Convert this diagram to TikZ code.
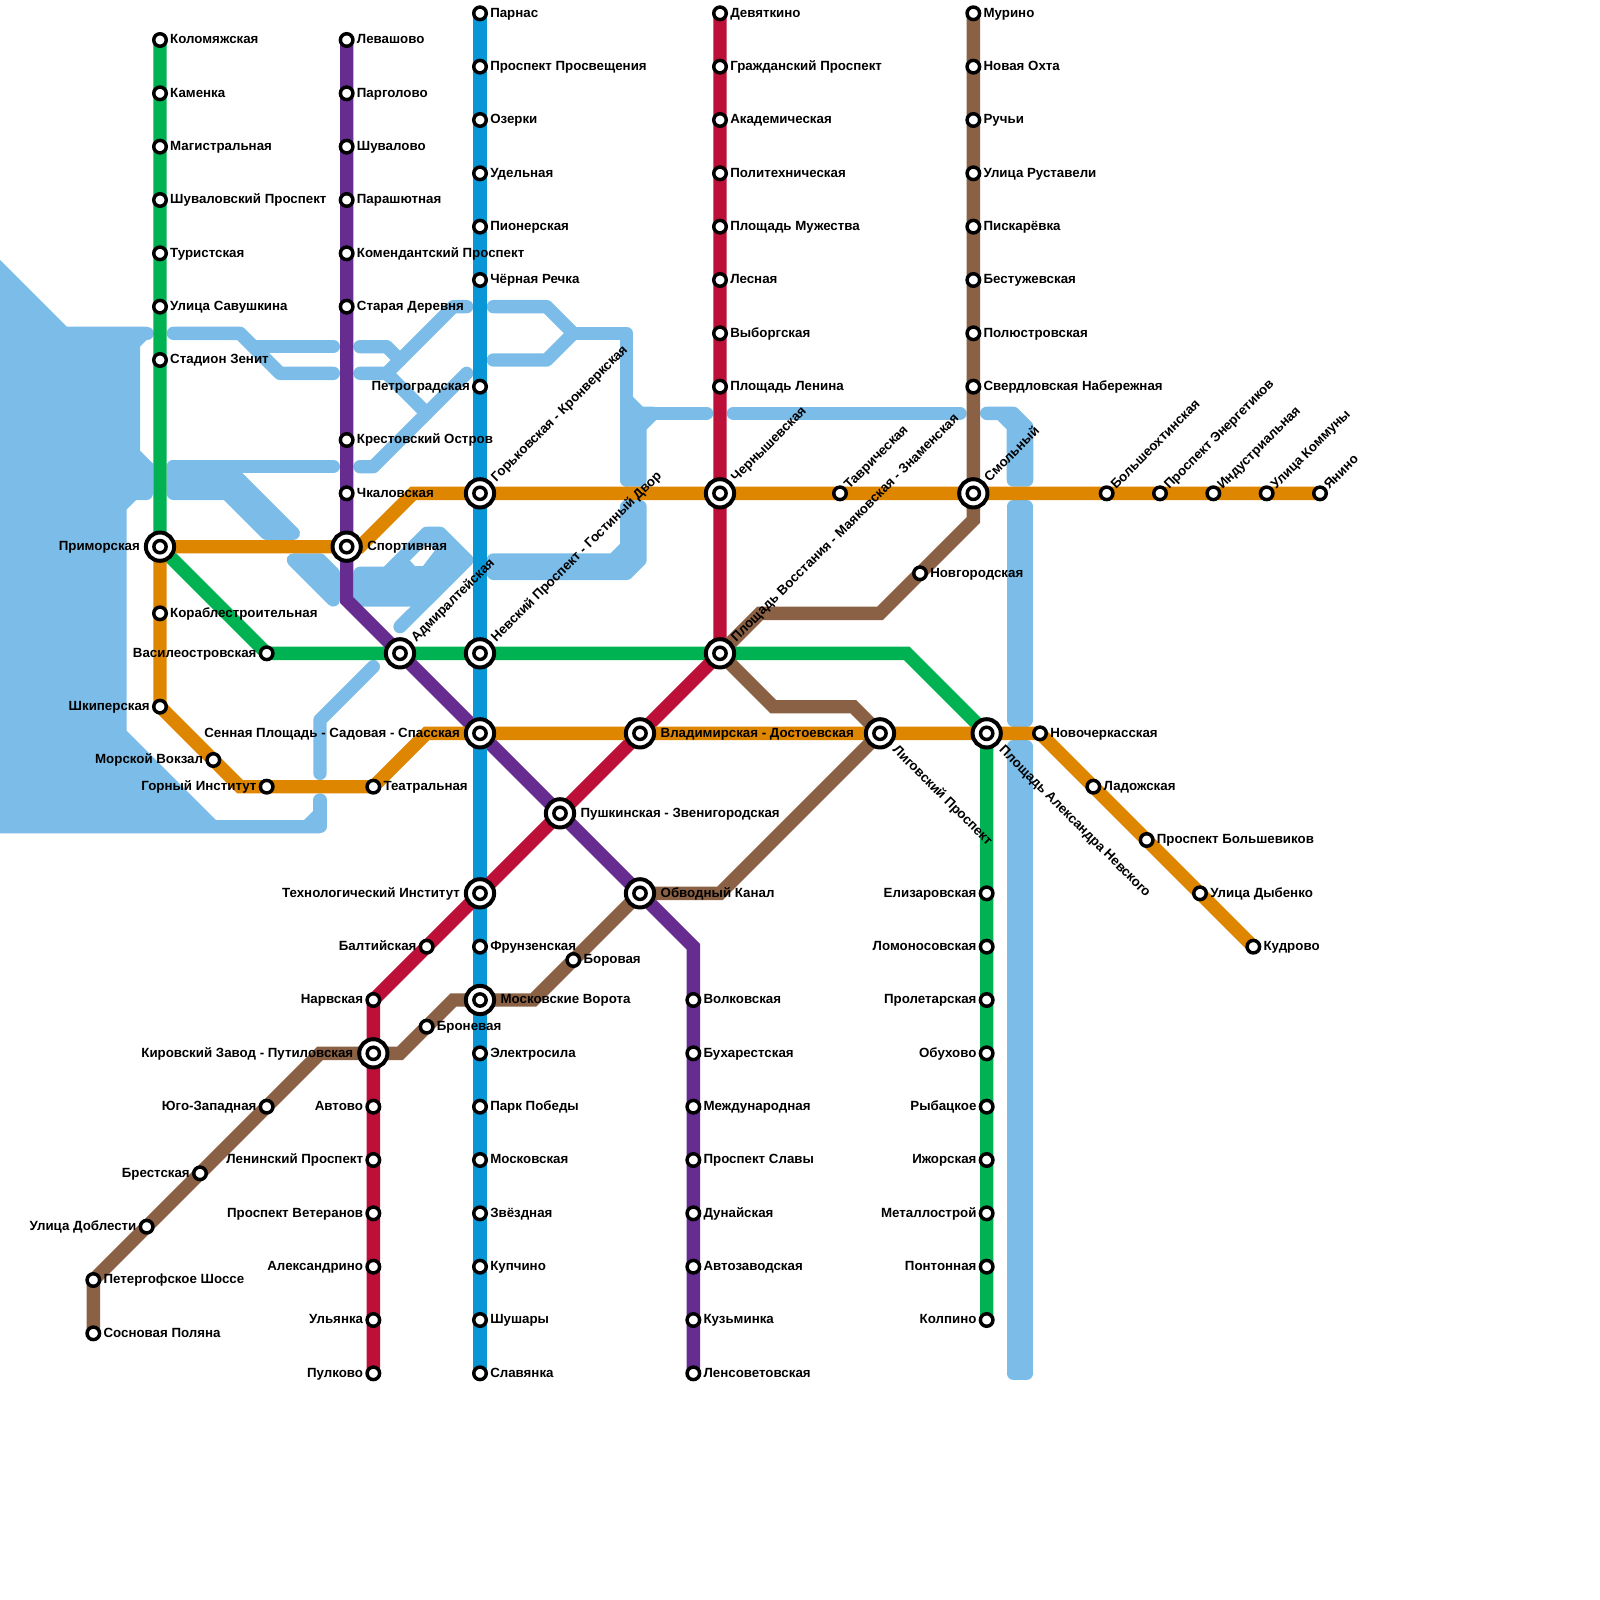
\documentclass[tikz,border=0pt]{standalone}
\usepackage{fontspec}
\setmainfont{Liberation Sans}
\pgfdeclarelayer{bg}
\pgfsetlayers{bg,main}
\definecolor{cwater}{HTML}{7BBDE8}
\definecolor{cgreen}{HTML}{00B251}
\definecolor{cpurple}{HTML}{662C90}
\definecolor{cblue}{HTML}{0896D7}
\definecolor{cred}{HTML}{BD1038}
\definecolor{corange}{HTML}{DF8600}
\definecolor{cbrown}{HTML}{8A6144}
\tikzset{
  sm/.style={circle,draw=black,fill=white,line width=.065cm,minimum size=.235cm,inner sep=0pt},
  big/.style={circle,draw=black,fill=white,line width=.075cm,minimum size=.53cm,inner sep=0pt,
    path picture={\draw[black,line width=.065cm,fill=white] (path picture bounding box.center) circle (.115cm);}},
  lab/.style={font=\bfseries\fontsize{7.1}{8}\selectfont,inner sep=0pt,text=black},
  rt/.style={lab,xshift=.185cm,yshift=-.07cm,anchor=base west},
  lf/.style={lab,xshift=-.185cm,yshift=-.07cm,anchor=base east},
  irt/.style={lab,xshift=.38cm,yshift=-.07cm,anchor=base west},
  ilf/.style={lab,xshift=-.37cm,yshift=-.07cm,anchor=base east},
  up/.style={lab,xshift=.17cm,yshift=.06cm,rotate=45,anchor=base west},
  iup/.style={lab,xshift=.3cm,yshift=.2cm,rotate=45,anchor=base west},
  idn/.style={lab,xshift=.22cm,yshift=-.32cm,rotate=-45,anchor=base west},
  water/.style={draw=cwater,line width=.25cm,line cap=round,line join=round},
  waterf/.style={water,fill=cwater},
  mline/.style={line width=.25cm,line join=miter,line cap=butt},
}
\newcommand\St[5]{\node[#1] (#2) at (#3) {}; \node[#4] (#2-t) at (#2.center) {#5};}
\begin{document}
\begin{tikzpicture}[x=1cm,y=-1cm]
\useasboundingbox (0,0) rectangle (30,30);
% green
\St{sm}{kol}{3,.75}{rt}{Коломяжская}
\St{sm}{kam}{3,1.75}{rt}{Каменка}
\St{sm}{mag}{3,2.75}{rt}{Магистральная}
\St{sm}{shv}{3,3.75}{rt}{Шуваловский Проспект}
\St{sm}{tur}{3,4.75}{rt}{Туристская}
\St{sm}{sav}{3,5.75}{rt}{Улица Савушкина}
\St{sm}{zen}{3,6.75}{rt}{Стадион Зенит}
\St{big}{pri}{3,10.25}{ilf}{Приморская}
\St{sm}{vas}{5,12.25}{lf}{Василеостровская}
\St{big}{adm}{7.5,12.25}{iup}{Адмиралтейская}
\St{big}{nev}{9,12.25}{iup}{Невский Проспект - Гостиный Двор}
\St{big}{vos}{13.5,12.25}{iup}{Площадь Восстания - Маяковская - Знаменская}
\St{big}{ale}{18.5,13.75}{idn}{Площадь Александра Невского}
\St{sm}{eli}{18.5,16.75}{lf}{Елизаровская}
\St{sm}{lom}{18.5,17.75}{lf}{Ломоносовская}
\St{sm}{pro}{18.5,18.75}{lf}{Пролетарская}
\St{sm}{obu}{18.5,19.75}{lf}{Обухово}
\St{sm}{ryb}{18.5,20.75}{lf}{Рыбацкое}
\St{sm}{izh}{18.5,21.75}{lf}{Ижорская}
\St{sm}{met}{18.5,22.75}{lf}{Металлострой}
\St{sm}{pon}{18.5,23.75}{lf}{Понтонная}
\St{sm}{kolp}{18.5,24.75}{lf}{Колпино}
% purple
\St{sm}{lev}{6.5,.75}{rt}{Левашово}
\St{sm}{par}{6.5,1.75}{rt}{Парголово}
\St{sm}{shu}{6.5,2.75}{rt}{Шувалово}
\St{sm}{prs}{6.5,3.75}{rt}{Парашютная}
\St{sm}{kom}{6.5,4.75}{rt}{Комендантский Проспект}
\St{sm}{sta}{6.5,5.75}{rt}{Старая Деревня}
\St{sm}{kre}{6.5,8.25}{rt}{Крестовский Остров}
\St{sm}{chk}{6.5,9.25}{rt}{Чкаловская}
\St{big}{spo}{6.5,10.25}{irt}{Спортивная}
\St{big}{sen}{9,13.75}{ilf}{Сенная Площадь - Садовая - Спасская}
\St{big}{pus}{10.5,15.25}{irt}{Пушкинская - Звенигородская}
\St{big}{obv}{12,16.75}{irt}{Обводный Канал}
\St{sm}{vol}{13,18.75}{rt}{Волковская}
\St{sm}{buh}{13,19.75}{rt}{Бухарестская}
\St{sm}{mez}{13,20.75}{rt}{Международная}
\St{sm}{psl}{13,21.75}{rt}{Проспект Славы}
\St{sm}{dun}{13,22.75}{rt}{Дунайская}
\St{sm}{avz}{13,23.75}{rt}{Автозаводская}
\St{sm}{kuz}{13,24.75}{rt}{Кузьминка}
\St{sm}{len}{13,25.75}{rt}{Ленсоветовская}
% blue
\St{sm}{prn}{9,.25}{rt}{Парнас}
\St{sm}{ppr}{9,1.25}{rt}{Проспект Просвещения}
\St{sm}{ozr}{9,2.25}{rt}{Озерки}
\St{sm}{ude}{9,3.25}{rt}{Удельная}
\St{sm}{pio}{9,4.25}{rt}{Пионерская}
\St{sm}{che}{9,5.25}{rt}{Чёрная Речка}
\St{sm}{pet}{9,7.25}{lf}{Петроградская}
\St{big}{gor}{9,9.25}{iup}{Горьковская - Кронверкская}
\St{big}{tek}{9,16.75}{ilf}{Технологический Институт}
\St{sm}{fru}{9,17.75}{rt}{Фрунзенская}
\St{big}{mvo}{9,18.75}{irt}{Московские Ворота}
\St{sm}{ele}{9,19.75}{rt}{Электросила}
\St{sm}{ppo}{9,20.75}{rt}{Парк Победы}
\St{sm}{mos}{9,21.75}{rt}{Московская}
\St{sm}{zve}{9,22.75}{rt}{Звёздная}
\St{sm}{kup}{9,23.75}{rt}{Купчино}
\St{sm}{shs}{9,24.75}{rt}{Шушары}
\St{sm}{sla}{9,25.75}{rt}{Славянка}
% red
\St{sm}{dev}{13.5,.25}{rt}{Девяткино}
\St{sm}{gra}{13.5,1.25}{rt}{Гражданский Проспект}
\St{sm}{aka}{13.5,2.25}{rt}{Академическая}
\St{sm}{pol}{13.5,3.25}{rt}{Политехническая}
\St{sm}{plm}{13.5,4.25}{rt}{Площадь Мужества}
\St{sm}{les}{13.5,5.25}{rt}{Лесная}
\St{sm}{vyb}{13.5,6.25}{rt}{Выборгская}
\St{sm}{pln}{13.5,7.25}{rt}{Площадь Ленина}
\St{big}{chr}{13.5,9.25}{iup}{Чернышевская}
\St{big}{vla}{12,13.75}{irt}{Владимирская - Достоевская}
\St{sm}{bal}{8,17.75}{lf}{Балтийская}
\St{sm}{nar}{7,18.75}{lf}{Нарвская}
\St{big}{kir}{7,19.75}{ilf}{Кировский Завод - Путиловская}
\St{sm}{avt}{7,20.75}{lf}{Автово}
\St{sm}{lpr}{7,21.75}{lf}{Ленинский Проспект}
\St{sm}{vet}{7,22.75}{lf}{Проспект Ветеранов}
\St{sm}{als}{7,23.75}{lf}{Александрино}
\St{sm}{uly}{7,24.75}{lf}{Ульянка}
\St{sm}{pul}{7,25.75}{lf}{Пулково}
% orange
\St{sm}{kor}{3,11.5}{rt}{Кораблестроительная}
\St{sm}{shk}{3,13.25}{lf}{Шкиперская}
\St{sm}{mor}{4,14.25}{lf}{Морской Вокзал}
\St{sm}{gin}{5,14.75}{lf}{Горный Институт}
\St{sm}{tea}{7,14.75}{rt}{Театральная}
\St{big}{lig}{16.5,13.75}{idn}{Лиговский Проспект}
\St{sm}{nvc}{19.5,13.75}{rt}{Новочеркасская}
\St{sm}{lad}{20.5,14.75}{rt}{Ладожская}
\St{sm}{pbo}{21.5,15.75}{rt}{Проспект Большевиков}
\St{sm}{dyb}{22.5,16.75}{rt}{Улица Дыбенко}
\St{sm}{kud}{23.5,17.75}{rt}{Кудрово}
\St{sm}{tav}{15.75,9.25}{up}{Таврическая}
\St{big}{smo}{18.25,9.25}{iup}{Смольный}
\St{sm}{boh}{20.75,9.25}{up}{Большеохтинская}
\St{sm}{pen}{21.75,9.25}{up}{Проспект Энергетиков}
\St{sm}{ind}{22.75,9.25}{up}{Индустриальная}
\St{sm}{ukm}{23.75,9.25}{up}{Улица Коммуны}
\St{sm}{yan}{24.75,9.25}{up}{Янино}
% brown
\St{sm}{mur}{18.25,.25}{rt}{Мурино}
\St{sm}{nok}{18.25,1.25}{rt}{Новая Охта}
\St{sm}{ruc}{18.25,2.25}{rt}{Ручьи}
\St{sm}{rus}{18.25,3.25}{rt}{Улица Руставели}
\St{sm}{pis}{18.25,4.25}{rt}{Пискарёвка}
\St{sm}{bes}{18.25,5.25}{rt}{Бестужевская}
\St{sm}{plu}{18.25,6.25}{rt}{Полюстровская}
\St{sm}{sve}{18.25,7.25}{rt}{Свердловская Набережная}
\St{sm}{nov}{17.25,10.75}{rt}{Новгородская}
\St{sm}{bor}{10.75,18}{rt}{Боровая}
\St{sm}{bro}{8,19.25}{rt}{Броневая}
\St{sm}{yuz}{5,20.75}{lf}{Юго-Западная}
\St{sm}{bre}{3.75,22}{lf}{Брестская}
\St{sm}{dob}{2.75,23}{lf}{Улица Доблести}
\St{sm}{peg}{1.75,24}{rt}{Петергофское Шоссе}
\St{sm}{sos}{1.75,25}{rt}{Сосновая Поляна}
\begin{pgfonlayer}{bg}
% ---- water
\fill[cwater] (0,4.875) -- (1.25,6.125) -- (2.75,6.125) -- (2.875,6.25) -- (2.625,6.5) -- (2.625,8.45) -- (2.875,8.7) -- (2.875,9.25) -- (2.75,9.375) -- (2.55,9.375) -- (2.375,9.55) -- (2.375,13.7) -- (4.05,15.375) -- (5.7,15.375) -- (5.875,15.2) -- (5.875,15) -- (6,15) -- (6,15.625) -- (0,15.625) -- cycle;
\draw[water] (2.75,6.25) -- (2.76,6.25);
\draw[water] (2.75,8.8) -- (2.75,9.25);
\draw[water] (6,15) -- (6,15.5) -- (3,15.5);
\draw[water] (3.25,6.25) -- (4.5,6.25) -- (5.25,7) -- (6.25,7);
\draw[water] (4.75,6.5) -- (6.25,6.5);
\draw[water] (6.75,6.5) -- (7.25,6.5) -- (7.5,6.75);
\draw[water] (8.75,5.75) -- (8.5,5.75) -- (7.25,7) -- (6.75,7);
\draw[water] (7.25,7) -- (8,7.75);
\draw[water] (8.75,7) -- (7,8.75) -- (6.75,8.75);
\draw[water] (3.25,8.75) -- (6.25,8.75);
\draw[waterf] (3.25,8.75) -- (4.25,8.75) -- (4.5,9) -- (5.5,10) -- (5,10) -- (4.25,9.25) -- (3.25,9.25) -- cycle;
\draw[waterf] (5.5,10.5) -- (6,10.5) -- (6.25,10.75) -- (6.25,11.25) -- cycle;
\draw[waterf] (6.75,10.75) -- (7.25,10.75) -- (8,10) -- (8.25,10) -- (8.75,10.5) -- (8,11.25) -- (6.75,11.25) -- cycle;
\draw[water] (8.75,10.5) -- (7.5,11.75);
\fill[white] (7.69,10.51) -- (8,10.2) -- (8.16,10.31) -- (7.93,10.61) -- (7.78,10.61) -- cycle;
\draw[water] (7,12.5) -- (6,13.5) -- (6,14.5);
\draw[water] (9.25,5.75) -- (10.25,5.75) -- (10.75,6.25) -- (10.25,6.75) -- (9.25,6.75);
\draw[water] (10.75,6.25) -- (11.75,6.25) -- (11.75,9);
\draw[waterf] (11.75,7.5) -- (12,7.75) -- (12.25,7.75) -- (12,8) -- (12,9) -- (11.75,9) -- cycle;
\draw[water] (12.25,7.75) -- (13.25,7.75);
\draw[waterf] (9.25,10.5) -- (11.5,10.5) -- (11.75,10.25) -- (11.75,9.5) -- (12,9.5) -- (12,10.5) -- (11.75,10.75) -- (9.25,10.75) -- cycle;
\draw[water] (13.75,7.75) -- (18,7.75);
\draw[water] (18.5,7.75) -- (19,7.75) -- (19.25,8) -- (19.25,9) -- (19,9) -- (19,8) -- (18.75,7.75);
\draw[waterf] (19,9.5) rectangle (19.25,13.5);
\draw[waterf] (19,14) rectangle (19.25,25.75);
% ---- lines
\coordinate (g1) at (17,12.25);
\draw[mline,cgreen] (kol.center) -- (pri.center) -- (vas.center) -- (g1) -- (ale.center) -- (kolp.center);
\coordinate (p1) at (6.5,11.25);
\coordinate (p2) at (13,17.75);
\draw[mline,cpurple] (lev.center) -- (p1) -- (adm.center) -- (obv.center) -- (p2) -- (len.center);
\draw[mline,cblue] (prn.center) -- (sla.center);
\draw[mline,cred] (dev.center) -- (vos.center) -- (nar.center) -- (pul.center);
\coordinate (o1) at (6.75,10.25);
\coordinate (o2) at (7.75,9.25);
\coordinate (o3) at (4.5,14.75);
\coordinate (o4) at (8,13.75);
\draw[mline,corange] (yan.center) -- (o2) -- (o1) -- (pri.center) -- (shk.center) -- (o3) -- (tea.center) -- (o4) -- (nvc.center) -- (kud.center);
\coordinate (b1) at (18.25,9.75);
\coordinate (b2) at (16.5,11.5);
\coordinate (b3) at (14.25,11.5);
\coordinate (b4) at (14.5,13.25);
\coordinate (b5) at (16,13.25);
\coordinate (b6) at (13.5,16.75);
\coordinate (b7) at (10,18.75);
\coordinate (b8) at (8.5,18.75);
\coordinate (b9) at (7.5,19.75);
\coordinate (b10) at (6,19.75);
\draw[mline,cbrown] (mur.center) -- (b1) -- (b2) -- (b3) -- (vos.center) -- (b4) -- (b5) -- (lig.center) -- (b6) -- (obv.center) -- (b7) -- (b8) -- (b9) -- (b10) -- (peg.center) -- (sos.center);
\end{pgfonlayer}
\end{tikzpicture}
\end{document}
